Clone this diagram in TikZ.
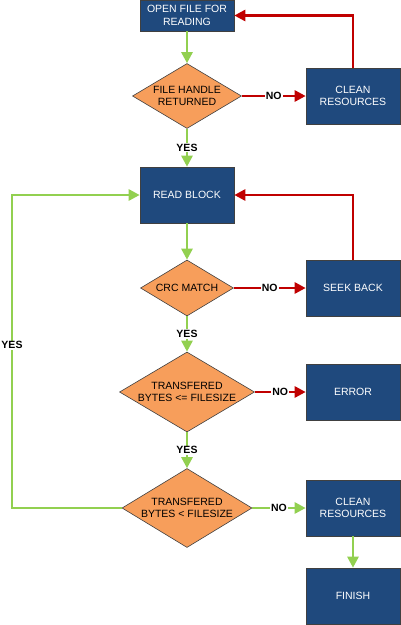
\documentclass[tikz,border=0pt]{standalone}
\usepackage{fontspec}
\setmainfont{Liberation Sans}
\usepackage{tikz}
\usetikzlibrary{shapes.geometric, arrows.meta}

\definecolor{boxblue}{HTML}{1F497D}
\definecolor{decorange}{HTML}{F79E5B}
\definecolor{yesgreen}{HTML}{92D050}
\definecolor{nored}{HTML}{C00000}
\definecolor{edgegray}{HTML}{404040}

\begin{document}
\begin{tikzpicture}[
        x=1pt, y=-1pt,
        every node/.style={align=center, font=\fontsize{10.5}{12.3}\selectfont},
        >={Triangle[length=11pt, width=11pt]},
        process/.style={draw=edgegray, line width=0.6pt, fill=boxblue, text=white, minimum width=94pt, minimum height=56pt, inner sep=0pt},
        decision/.style={draw=edgegray, line width=0.6pt, fill=decorange, shape=diamond, inner sep=0pt},
        yesline/.style={->, line width=2.6pt, yesgreen},
        noline/.style={->, line width=2.6pt, nored},
        answer/.style={fill=white, inner sep=1pt, text=black, font=\fontsize{10.5}{12.3}\selectfont\bfseries}
    ]
        \useasboundingbox (0,0) rectangle (401,625);

        \node[process, minimum height=31pt] (open) at (187,15.5) {OPEN FILE FOR\\READING};
        \node[decision, minimum width=109pt, minimum height=65pt, shape aspect=1.68] (handle) at (187,96) {FILE HANDLE\\RETURNED};
        \node[process] (clean1) at (353,96) {CLEAN\\RESOURCES};

        \node[process] (read) at (187,195) {READ BLOCK};
        \node[decision, minimum width=93pt, minimum height=56pt, shape aspect=1.66] (crc) at (187,288) {CRC MATCH};
        \node[process] (seek) at (353,288) {SEEK BACK};

        \node[decision, minimum width=135pt, minimum height=80pt, shape aspect=1.69] (checkle) at (187,392) {TRANSFERED\\BYTES <= FILESIZE};
        \node[process] (error) at (353,392) {ERROR};

        \node[decision, minimum width=130pt, minimum height=79pt, shape aspect=1.65] (checklt) at (187,508) {TRANSFERED\\BYTES < FILESIZE};
        \node[process] (clean2) at (353,508) {CLEAN\\RESOURCES};
        \node[process] (finish) at (353,596) {FINISH};
        \coordinate (loop) at (12,508);

        \draw[yesline] (open) -- (handle);
        \draw[noline] (handle) -- node[answer] {NO} (clean1);
        \draw[noline] (clean1) |- (open);
        \draw[yesline] (handle) -- node[answer] {YES} (read);

        \draw[yesline] (read) -- (crc);
        \draw[noline] (crc) -- node[answer] {NO} (seek);
        \draw[noline] (seek) |- (read);
        \draw[yesline] (crc) -- node[answer] {YES} (checkle);

        \draw[noline] (checkle) -- node[answer] {NO} (error);
        \draw[yesline] (checkle) -- node[answer] {YES} (checklt);

        \draw[yesline] (checklt) -- node[answer] {NO} (clean2);
        \draw[yesline] (clean2) -- (finish);
        \draw[yesline] (checklt) -- (loop) |- node[answer, pos=0.26] {YES} (read);
    \end{tikzpicture}
\end{document}
